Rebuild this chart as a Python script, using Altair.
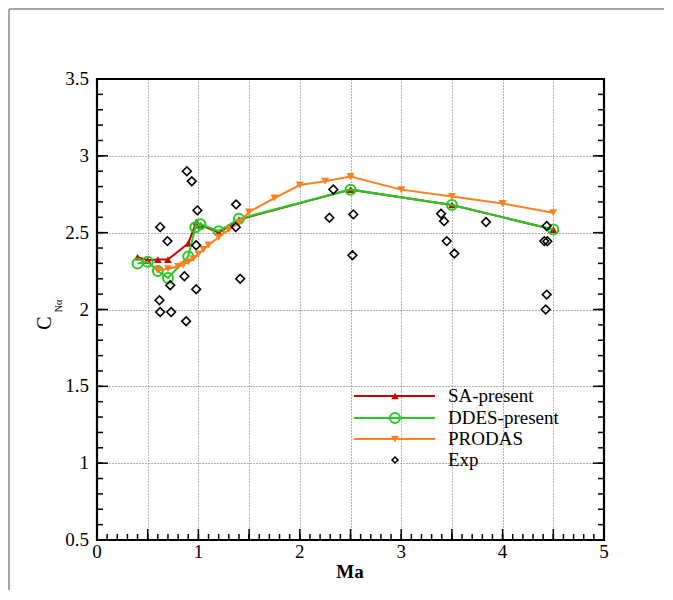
import altair as alt
import pandas as pd

W, H = 507, 461
FONT = "Liberation Serif"

sa_ma = [0.4, 0.5, 0.6, 0.7, 0.9, 0.98, 1.02, 1.2, 1.4, 2.5, 3.5, 4.5]
sa_c = [2.34, 2.32, 2.325, 2.325, 2.43, 2.57, 2.55, 2.50, 2.585, 2.78, 2.68, 2.52]

ddes_ma = [0.4, 0.5, 0.6, 0.7, 0.9, 0.97, 1.02, 1.2, 1.4, 2.5, 3.5, 4.5]
ddes_c = [2.30, 2.31, 2.25, 2.205, 2.345, 2.535, 2.555, 2.51, 2.59, 2.78, 2.68, 2.52]

prodas_ma = [0.6, 0.7, 0.8, 0.85, 0.9, 0.95, 1.0, 1.05, 1.1, 1.2, 1.3, 1.4, 1.5,
             1.75, 2.0, 2.25, 2.5, 3.0, 3.5, 4.0, 4.5]
prodas_c = [2.255, 2.265, 2.28, 2.29, 2.31, 2.33, 2.36, 2.39, 2.42, 2.47, 2.52, 2.565,
            2.635, 2.725, 2.81, 2.835, 2.866, 2.78, 2.735, 2.69, 2.63]

exp_ma = [0.886, 0.935, 0.99, 0.623, 0.695, 0.978, 1.372, 1.369, 1.412, 0.862,
          0.722, 0.978, 0.616, 0.623, 0.731, 0.879, 2.331, 2.292, 2.528, 2.519,
          3.393, 3.423, 3.449, 3.524, 3.836, 4.435, 4.411, 4.441, 4.435, 4.425]
exp_c = [2.90, 2.835, 2.645, 2.536, 2.445, 2.418, 2.684, 2.536, 2.20, 2.216,
         2.158, 2.132, 2.06, 1.984, 1.984, 1.924, 2.781, 2.597, 2.619, 2.353,
         2.623, 2.575, 2.445, 2.364, 2.569, 2.543, 2.445, 2.444, 2.097, 2.0]

x_major = [0, 0.5, 1, 1.5, 2, 2.5, 3, 3.5, 4, 4.5, 5]
x_minor = [round(i * 0.1, 1) for i in range(51)]
y_major = [0.5, 1, 1.5, 2, 2.5, 3, 3.5]
y_minor = [round(0.5 + i * 0.1, 1) for i in range(31)]
x_labels = [0, 1, 2, 3, 4, 5]
x_label_text = ["0", "1", "2", "3", "4", "5"]
y_labels = [0.5, 1, 1.5, 2, 2.5, 3, 3.5]
y_label_text = ["0.5", "1", "1.5", "2", "2.5", "3", "3.5"]

legend_names = ["SA-present", "DDES-present", "PRODAS", "Exp"]
legend_colors = ["#cc0000", "#22cc22", "#ff8020", "#000000"]
x_title = "Ma"
y_title_main = "C"
y_title_sub = "Nα"

xs = alt.Scale(domain=[0, 5], nice=False, zero=False)
ys = alt.Scale(domain=[0.5, 3.5], nice=False, zero=False)

xaxis = alt.Axis(values=x_major, labels=False, ticks=False, domain=False,
                 grid=True, gridDash=[1, 2], gridColor="#666666", gridWidth=1)
yaxis = alt.Axis(values=y_major, labels=False, ticks=False, domain=False,
                 grid=True, gridDash=[1, 2], gridColor="#666666", gridWidth=1)


def X(field):
    return alt.X(f"{field}:Q", scale=xs, axis=xaxis, title=None)


def Y(field):
    return alt.Y(f"{field}:Q", scale=ys, axis=yaxis, title=None)


def df(ma, c):
    return pd.DataFrame({"Ma": ma, "C": c})


sa_df = df(sa_ma, sa_c)
ddes_df = df(ddes_ma, ddes_c)
prodas_df = df(prodas_ma, prodas_c)
exp_df = df(exp_ma, exp_c)

red, green, orange, black = legend_colors

layers = []

# outer gray frame: left and top edges
frame_df = pd.DataFrame({"k": [0]})
layers.append(alt.Chart(frame_df).mark_rule(color="#888888", strokeWidth=1.5).encode(
    x=alt.value(W + 60), x2=alt.value(-88), y=alt.value(-70), y2=alt.value(-70)))
layers.append(alt.Chart(frame_df).mark_rule(color="#888888", strokeWidth=1.5).encode(
    x=alt.value(-88), x2=alt.value(-88), y=alt.value(-70), y2=alt.value(H + 50)))

layers.append(alt.Chart(sa_df).mark_line(color=red, strokeWidth=2).encode(x=X("Ma"), y=Y("C")))
layers.append(alt.Chart(sa_df).mark_point(shape="triangle-up", filled=True, color=red, size=60, opacity=1).encode(x=X("Ma"), y=Y("C")))
layers.append(alt.Chart(ddes_df).mark_line(color=green, strokeWidth=2).encode(x=X("Ma"), y=Y("C")))
layers.append(alt.Chart(ddes_df).mark_point(shape="circle", filled=False, color=green, size=100, strokeWidth=2, opacity=1).encode(x=X("Ma"), y=Y("C")))
layers.append(alt.Chart(prodas_df).mark_line(color=orange, strokeWidth=2).encode(x=X("Ma"), y=Y("C")))
layers.append(alt.Chart(prodas_df).mark_point(shape="triangle-down", filled=True, color=orange, size=65, opacity=1).encode(x=X("Ma"), y=Y("C")))
layers.append(alt.Chart(exp_df).mark_point(shape="diamond", filled=False, color=black, size=75, strokeWidth=1.6, opacity=1).encode(x=X("Ma"), y=Y("C")))

xmaj = pd.DataFrame({"v": x_major})
xmin = pd.DataFrame({"v": x_minor})
ymaj = pd.DataFrame({"v": y_major})
ymin = pd.DataFrame({"v": y_minor})
tk = dict(color="black", strokeWidth=1.5)
layers.append(alt.Chart(xmin).mark_rule(**tk).encode(x=X("v"), y=alt.value(H), y2=alt.value(H - 6)))
layers.append(alt.Chart(xmaj).mark_rule(**tk).encode(x=X("v"), y=alt.value(H), y2=alt.value(H - 11)))
layers.append(alt.Chart(ymin).mark_rule(**tk).encode(y=Y("v"), x=alt.value(0), x2=alt.value(6)))
layers.append(alt.Chart(ymaj).mark_rule(**tk).encode(y=Y("v"), x=alt.value(0), x2=alt.value(11)))
layers.append(alt.Chart(ymin).mark_rule(**tk).encode(y=Y("v"), x=alt.value(W), x2=alt.value(W - 6)))
layers.append(alt.Chart(ymaj).mark_rule(**tk).encode(y=Y("v"), x=alt.value(W), x2=alt.value(W - 11)))

xl_df = pd.DataFrame({"v": x_labels, "t": x_label_text})
yl_df = pd.DataFrame({"v": y_labels, "t": y_label_text})
layers.append(alt.Chart(xl_df).mark_text(font=FONT, fontSize=19, color="black",
                                         align="center", baseline="middle").encode(
    x=X("v"), y=alt.value(H + 12), text="t:N"))
layers.append(alt.Chart(yl_df).mark_text(font=FONT, fontSize=19, color="black",
                                         align="right", baseline="middle").encode(
    y=Y("v"), x=alt.value(-8), text="t:N"))

layers.append(alt.Chart(frame_df).mark_rect(filled=False, stroke="black", strokeWidth=2.2, fillOpacity=0).encode(
    x=alt.value(0), x2=alt.value(W), y=alt.value(0), y2=alt.value(H)))

t_df = pd.DataFrame({"t": [x_title]})
layers.append(alt.Chart(t_df).mark_text(font=FONT, fontSize=19, fontWeight="bold", color="black",
                                        align="center", baseline="middle").encode(
    text="t:N", x=alt.value(253), y=alt.value(493)))
c_df = pd.DataFrame({"t": [y_title_main]})
layers.append(alt.Chart(c_df).mark_text(font=FONT, fontSize=20, color="black", angle=270,
                                        align="center", baseline="middle").encode(
    text="t:N", x=alt.value(-52), y=alt.value(244)))
s_df = pd.DataFrame({"t": [y_title_sub]})
layers.append(alt.Chart(s_df).mark_text(font=FONT, fontSize=10, color="black", angle=270,
                                        align="center", baseline="middle").encode(
    text="t:N", x=alt.value(-38), y=alt.value(227)))

lg_y = [317, 339, 360, 381]
lx1, lx2, lmx, ltx = 257, 338, 298, 351
shapes = ["triangle-up", "circle", "triangle-down", "diamond"]
for i, name in enumerate(legend_names):
    ldf = pd.DataFrame({"t": [name]})
    col = legend_colors[i]
    if i < 3:
        layers.append(alt.Chart(ldf).mark_rule(color=col, strokeWidth=2).encode(
            x=alt.value(lx1), x2=alt.value(lx2), y=alt.value(lg_y[i])))
    if i == 0:
        pm = alt.Chart(ldf).mark_point(shape=shapes[i], filled=True, color=col, size=55, opacity=1)
    elif i == 1:
        pm = alt.Chart(ldf).mark_point(shape=shapes[i], filled=False, color=col, size=100, strokeWidth=2, opacity=1)
    elif i == 2:
        pm = alt.Chart(ldf).mark_point(shape=shapes[i], filled=True, color=col, size=60, opacity=1)
    else:
        pm = alt.Chart(ldf).mark_point(shape=shapes[i], filled=False, color=col, size=35, strokeWidth=1.6, opacity=1)
    layers.append(pm.encode(x=alt.value(lmx), y=alt.value(lg_y[i])))
    layers.append(alt.Chart(ldf).mark_text(font=FONT, fontSize=19, color="black",
                                           align="left", baseline="middle").encode(
        text="t:N", x=alt.value(ltx), y=alt.value(lg_y[i])))

chart = alt.layer(*layers).properties(
    width=W, height=H,
    autosize=alt.AutoSizeParams(type="none"),
    padding={"left": 89, "top": 71, "right": 61, "bottom": 52},
    background="white",
).configure_view(strokeWidth=0)

chart.save("out.html", embed_options={"renderer": "svg", "actions": False})
